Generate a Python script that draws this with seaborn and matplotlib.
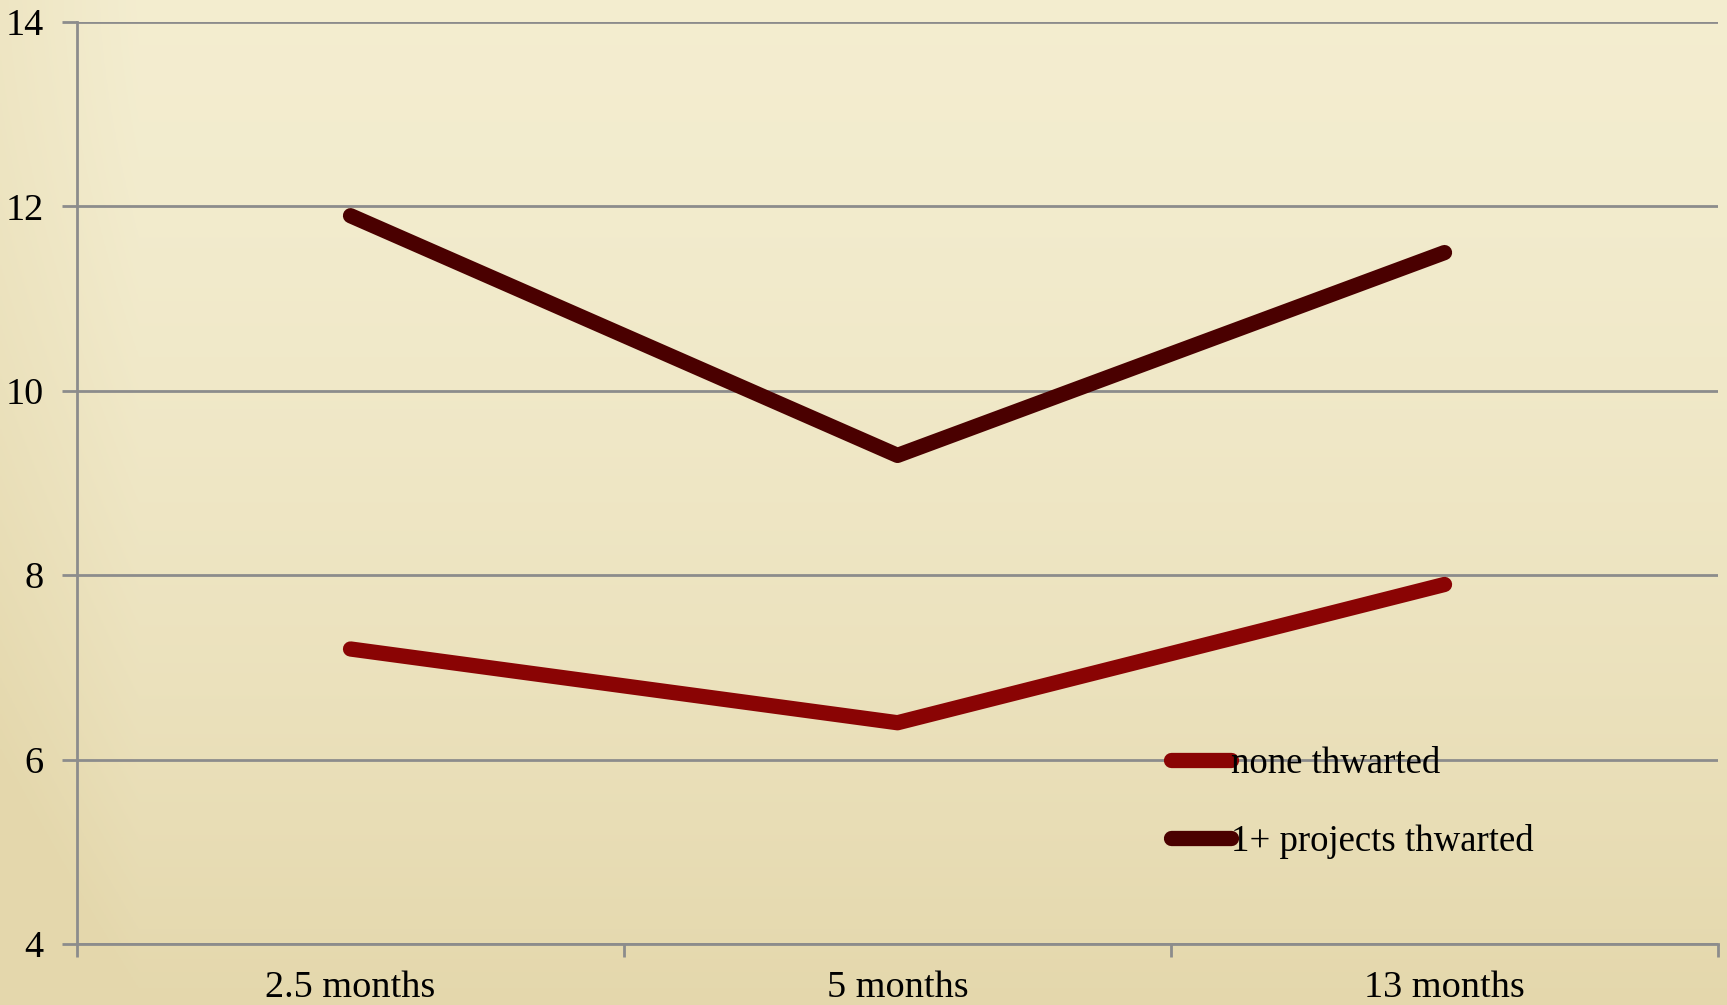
import numpy as np
import pandas as pd
import matplotlib
matplotlib.use("Agg")
import matplotlib.pyplot as plt
import seaborn as sns
from matplotlib.ticker import FixedLocator, NullFormatter

# Data
timepoints = ["2.5 months", "5 months", "13 months"]
none_thwarted = [7.2, 6.4, 7.9]
projects_thwarted = [11.9, 9.3, 11.5]
series_names = ["none thwarted", "1+ projects thwarted"]
y_ticks = [4, 6, 8, 10, 12, 14]

df = pd.DataFrame({
    "time": timepoints * 2,
    "value": none_thwarted + projects_thwarted,
    "group": [series_names[0]] * 3 + [series_names[1]] * 3,
})

sns.set_theme(style="white")
plt.rcParams["font.family"] = ["Liberation Serif", "DejaVu Serif"]
plt.rcParams["text.color"] = "black"

fig = plt.figure(figsize=(17.27, 10.05), dpi=100)

# Parchment-like background
bg = fig.add_axes([0, 0, 1, 1], zorder=-10)
h, w = 400, 700
yy = np.linspace(0, 1, h)[:, None]
xx = np.linspace(0, 1, w)[None, :]
top = np.array([0.955, 0.930, 0.815])
bot = np.array([0.895, 0.845, 0.675])
t = (yy ** 1.6) * np.ones_like(xx)
edge = np.clip(1 - xx / 0.08, 0, 1) * 0.35
t = np.clip(t + edge, 0, 1)
img = top[None, None, :] * (1 - t[..., None]) + bot[None, None, :] * t[..., None]
bg.imshow(img, aspect="auto", extent=[0, 1, 0, 1], origin="upper")
bg.set_axis_off()

ax = fig.add_axes([0.0446, 0.0607, 0.9502, 0.9173])
ax.set_facecolor("none")

lw = 11
palette = {series_names[0]: "#8a0404", series_names[1]: "#4a0000"}
sns.lineplot(data=df, x="time", y="value", hue="group", hue_order=series_names,
             palette=palette, linewidth=lw, ax=ax, sort=False,
             legend=True)
for line in ax.lines:
    line.set_solid_capstyle("round")

grid_col = "#8c8c8c"
ax.set_ylim(4, 14)
ax.set_xlim(-0.5, 2.5)
ax.set_yticks(y_ticks)
ax.set_yticklabels([str(v) for v in y_ticks])
ax.yaxis.grid(True, color=grid_col, linewidth=2)
ax.xaxis.grid(False)

# category boundaries as ticks, labels centred on categories
ax.xaxis.set_major_locator(FixedLocator([-0.5, 0.5, 1.5, 2.5]))
ax.xaxis.set_major_formatter(NullFormatter())
ax.xaxis.set_minor_locator(FixedLocator([0, 1, 2]))
ax.set_xticklabels(timepoints, minor=True)
ax.tick_params(axis="x", which="major", length=9, width=2, color=grid_col,
               direction="out", bottom=True)
ax.tick_params(axis="x", which="minor", length=0, labelsize=27.5, pad=19,
               labelcolor="black")
ax.tick_params(axis="y", length=11, width=2, color=grid_col, direction="out",
               left=True, labelsize=27.5, pad=13, labelcolor="black")

for side in ["top", "right"]:
    ax.spines[side].set_visible(False)
for side in ["left", "bottom"]:
    ax.spines[side].set_color(grid_col)
    ax.spines[side].set_linewidth(2)

ax.set_xlabel("")
ax.set_ylabel("")

leg = ax.legend(loc="upper left", bbox_to_anchor=(0.6575, 0.230),
                frameon=False, fontsize=26.5, handlelength=1.65,
                handletextpad=0.0, labelspacing=1.17, borderaxespad=0)
for lh in leg.get_lines():
    lh.set_linewidth(lw)
    lh.set_solid_capstyle("round")
for txt in leg.get_texts():
    txt.set_color("black")

fig.savefig("out.png", dpi=100)
